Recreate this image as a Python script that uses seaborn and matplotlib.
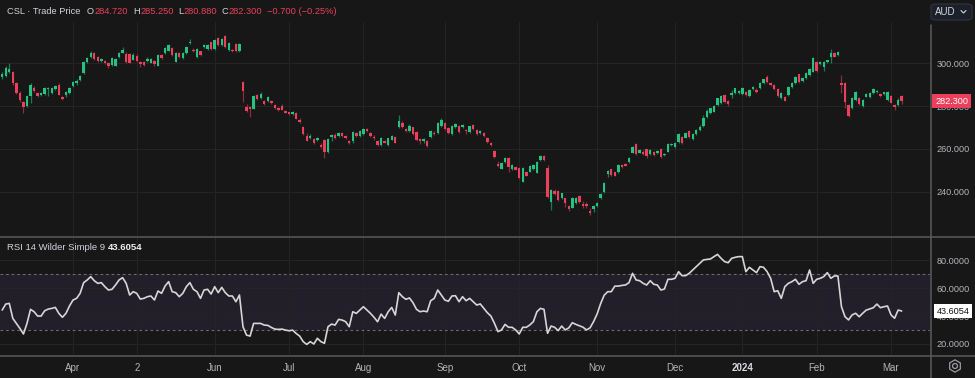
import numpy as np
import pandas as pd
import matplotlib
matplotlib.use("Agg")
import matplotlib.pyplot as plt
import matplotlib.transforms as mtrans
import seaborn as sns
from matplotlib.patches import FancyBboxPatch, RegularPolygon, Circle
from matplotlib.lines import Line2D

# CSL daily candles, 6 Mar 2023 - 6 Mar 2024 (ASX trading days)
open_ = [293.3, 294.0, 296.0, 296.0, 290.5, 286.0, 281.8, 280.0, 284.5, 288.5,
         286.0, 285.0, 285.6, 287.7, 286.0, 288.0, 289.8, 284.2, 285.0, 286.0,
         289.3, 290.5, 292.0, 295.3, 300.6, 302.8, 304.6, 302.8, 300.8, 301.0,
         300.1, 299.0, 298.8, 302.8, 304.9, 304.2, 304.0, 301.6, 303.5, 300.6,
         300.3, 301.0, 300.2, 300.9, 298.7, 303.9, 304.6, 305.8, 307.0, 300.7,
         304.6, 302.4, 304.8, 309.2, 306.1, 302.9, 305.4, 307.6, 306.6, 309.6,
         306.5, 311.5, 308.2, 312.7, 306.0, 306.2, 308.8, 305.5, 291.3, 279.7,
         279.4, 278.8, 285.1, 283.7, 282.3, 282.2, 282.3, 280.3, 279.0, 280.2,
         277.7, 277.0, 276.1, 276.6, 273.5, 270.2, 266.0, 265.0, 264.7, 264.2,
         261.8, 264.2, 258.6, 265.4, 266.7, 265.9, 267.6, 266.0, 263.9, 263.9,
         267.6, 266.2, 267.0, 269.2, 267.6, 265.8, 263.9, 261.8, 263.9, 262.0,
         264.4, 265.6, 270.1, 272.0, 269.4, 268.3, 270.0, 268.0, 264.8, 263.5,
         263.9, 265.6, 267.6, 267.3, 270.7, 272.2, 269.6, 267.0, 270.1, 270.9,
         270.3, 269.0, 267.8, 271.0, 268.8, 267.5, 267.6, 265.0, 262.9, 259.2,
         253.2, 250.9, 253.8, 255.7, 250.6, 251.4, 251.0, 244.8, 249.5, 249.5,
         250.8, 249.0, 255.0, 256.9, 251.0, 235.5, 240.5, 240.5, 237.0, 237.0,
         233.5, 232.7, 235.0, 238.0, 234.4, 234.4, 231.2, 232.0, 233.5, 237.3,
         239.9, 248.4, 250.5, 249.1, 249.3, 252.4, 253.2, 253.8, 258.3, 262.3,
         258.3, 258.6, 259.8, 257.8, 258.6, 258.2, 260.1, 257.0, 258.8, 261.7,
         260.7, 263.4, 265.7, 265.3, 268.5, 264.8, 267.0, 268.8, 270.5, 274.8,
         276.9, 277.4, 280.5, 281.5, 285.1, 282.5, 285.1, 286.2, 286.2, 285.6,
         286.7, 284.7, 287.8, 287.5, 288.2, 290.8, 293.6, 290.8, 289.8, 287.8,
         283.6, 284.3, 285.1, 289.0, 290.8, 294.7, 291.8, 292.9, 294.4, 296.0,
         300.6, 299.7, 298.3, 300.6, 302.6, 304.8, 303.6, 290.8, 290.6, 280.5,
         278.9, 282.8, 283.6, 280.0, 284.4, 284.2, 285.9, 286.3, 285.8, 285.5,
         282.8, 284.8, 280.5, 280.5, 284.72]

close = [294.9, 297.5, 297.3, 290.5, 286.0, 283.0, 279.5, 284.5, 289.8, 287.0,
         284.6, 286.0, 288.4, 288.5, 288.5, 289.2, 285.2, 283.4, 286.7, 288.6,
         291.3, 291.8, 294.0, 300.4, 302.3, 304.6, 302.0, 300.8, 301.9, 300.0,
         298.4, 302.3, 302.0, 304.6, 306.0, 300.6, 300.2, 303.9, 301.0, 299.5,
         299.3, 302.0, 301.8, 299.4, 303.7, 302.3, 307.0, 308.4, 303.8, 304.6,
         302.8, 304.6, 307.4, 309.9, 305.4, 306.5, 303.8, 308.5, 308.3, 306.5,
         310.7, 308.4, 311.2, 307.6, 309.2, 305.4, 305.5, 308.8, 287.1, 277.9,
         278.5, 284.7, 283.2, 285.6, 280.8, 284.0, 281.4, 278.9, 278.1, 278.3,
         276.9, 276.1, 277.0, 274.1, 272.6, 266.8, 263.9, 266.0, 262.9, 265.1,
         261.0, 258.7, 264.5, 266.4, 265.2, 267.6, 266.0, 265.2, 262.6, 267.8,
         266.1, 268.5, 269.2, 268.3, 266.0, 265.2, 262.0, 265.0, 263.0, 264.9,
         266.2, 263.0, 273.2, 270.1, 268.2, 270.5, 266.8, 264.0, 263.6, 264.5,
         261.3, 268.3, 266.9, 272.2, 273.5, 269.1, 267.4, 270.8, 271.6, 267.8,
         271.2, 268.2, 270.5, 269.2, 266.9, 268.5, 266.0, 263.4, 261.9, 256.1,
         252.3, 253.4, 255.7, 251.5, 252.6, 250.4, 246.4, 251.0, 247.6, 251.9,
         252.6, 253.8, 256.7, 255.0, 237.8, 240.9, 239.0, 236.3, 239.3, 235.0,
         232.0, 237.4, 237.4, 235.3, 233.6, 233.6, 230.4, 233.5, 235.0, 239.1,
         244.1, 249.9, 247.9, 247.6, 252.4, 251.7, 252.3, 255.7, 260.8, 257.7,
         259.5, 257.8, 256.7, 259.5, 257.0, 259.2, 256.4, 257.8, 262.3, 262.3,
         262.9, 267.0, 262.6, 267.6, 265.6, 267.2, 268.8, 270.4, 274.5, 277.8,
         278.9, 280.0, 283.5, 284.8, 282.0, 281.0, 286.2, 288.2, 287.1, 288.5,
         285.1, 287.4, 289.0, 286.3, 290.6, 292.4, 291.3, 289.8, 287.8, 284.7,
         285.9, 282.5, 289.0, 290.8, 293.6, 291.3, 293.2, 295.2, 297.1, 302.2,
         296.4, 300.3, 300.6, 301.2, 304.8, 303.0, 305.2, 289.8, 282.0, 275.3,
         283.6, 286.7, 280.9, 282.8, 285.6, 286.0, 287.8, 287.0, 284.5, 286.3,
         286.4, 281.6, 279.5, 283.0, 282.3]

high = [296.0, 298.5, 300.0, 296.5, 291.0, 287.0, 282.5, 285.0, 290.5, 289.5,
        286.5, 286.5, 289.0, 289.0, 289.0, 289.8, 290.5, 284.8, 287.0, 289.0,
        291.8, 292.5, 294.5, 301.0, 302.8, 305.5, 305.0, 303.5, 302.5, 301.5,
        300.5, 302.8, 302.5, 305.0, 307.5, 305.0, 304.5, 304.8, 304.0, 301.0,
        300.8, 303.0, 302.2, 301.3, 304.0, 304.3, 307.5, 309.0, 307.5, 305.0,
        305.0, 305.0, 307.8, 311.0, 306.8, 307.0, 305.8, 309.0, 308.8, 310.0,
        311.2, 312.0, 311.6, 313.2, 309.6, 306.6, 309.2, 309.3, 291.8, 281.0,
        279.8, 285.2, 285.6, 286.7, 282.8, 284.5, 283.0, 280.8, 279.5, 281.0,
        278.1, 277.4, 277.6, 277.0, 274.5, 270.6, 267.5, 266.8, 265.2, 265.6,
        262.8, 264.6, 265.0, 267.2, 267.5, 268.0, 268.0, 266.5, 264.4, 268.2,
        268.0, 268.9, 269.6, 269.6, 268.0, 266.3, 264.3, 265.4, 264.3, 265.3,
        266.6, 266.0, 276.0, 272.8, 269.8, 271.5, 270.4, 268.4, 265.2, 265.0,
        264.3, 268.7, 268.2, 272.6, 274.2, 272.6, 270.0, 271.2, 272.0, 271.3,
        271.6, 269.5, 270.9, 271.4, 269.2, 269.0, 268.0, 265.4, 263.3, 259.6,
        254.2, 253.8, 256.1, 256.1, 253.0, 251.9, 251.4, 251.4, 249.9, 252.6,
        253.0, 254.2, 257.4, 257.3, 252.5, 241.3, 241.6, 240.9, 239.7, 237.4,
        234.0, 237.8, 237.8, 238.4, 236.0, 235.4, 232.5, 234.0, 235.4, 239.5,
        244.5, 250.3, 250.9, 249.5, 252.8, 252.8, 253.6, 256.1, 261.2, 262.7,
        259.9, 259.6, 260.2, 259.9, 259.0, 259.6, 260.5, 258.2, 262.7, 262.7,
        263.3, 267.4, 266.1, 268.0, 268.9, 267.6, 269.3, 271.0, 276.0, 278.4,
        279.3, 280.4, 283.9, 285.2, 285.5, 283.0, 287.5, 288.6, 287.6, 288.9,
        287.1, 287.8, 289.4, 288.4, 291.0, 292.8, 294.5, 291.2, 290.2, 288.2,
        286.3, 284.7, 289.4, 291.2, 294.0, 295.1, 293.6, 295.6, 297.5, 302.6,
        301.0, 300.8, 301.0, 301.6, 306.6, 305.2, 305.6, 294.5, 291.0, 281.0,
        284.0, 287.1, 284.0, 283.2, 286.0, 286.4, 288.2, 287.4, 286.2, 286.7,
        286.8, 285.2, 281.0, 283.5, 285.25]

low = [292.5, 293.5, 295.5, 290.0, 285.5, 282.0, 276.7, 279.5, 281.5, 286.5,
       284.0, 284.5, 285.0, 284.5, 285.5, 287.5, 285.0, 282.8, 284.3, 285.5,
       289.0, 290.0, 291.8, 295.0, 300.0, 302.5, 301.5, 300.3, 300.5, 299.5,
       297.8, 298.6, 298.4, 302.3, 304.6, 300.2, 299.8, 301.2, 300.5, 298.3,
       298.8, 300.5, 299.8, 298.8, 298.4, 302.0, 304.2, 305.4, 303.5, 300.3,
       302.4, 302.0, 304.4, 308.8, 305.0, 302.5, 303.4, 307.2, 306.2, 306.0,
       306.0, 308.0, 307.8, 307.2, 305.6, 305.0, 305.0, 305.2, 282.0, 277.4,
       275.0, 278.4, 282.8, 283.3, 280.4, 281.8, 281.0, 278.5, 277.7, 278.0,
       276.6, 275.7, 275.8, 273.8, 272.2, 266.4, 263.5, 264.6, 262.5, 263.8,
       260.6, 256.0, 258.0, 263.5, 264.8, 265.5, 265.6, 264.6, 262.2, 262.6,
       265.7, 265.8, 266.6, 267.9, 265.6, 264.2, 261.6, 261.4, 262.6, 261.6,
       264.0, 262.6, 269.7, 269.7, 267.8, 267.9, 266.4, 263.6, 262.4, 263.0,
       260.9, 265.2, 266.5, 266.9, 270.3, 268.7, 267.0, 266.6, 269.7, 267.4,
       269.9, 267.0, 267.4, 268.8, 266.5, 267.1, 265.6, 263.0, 261.2, 255.7,
       251.8, 250.5, 253.4, 249.5, 250.2, 250.0, 246.0, 244.4, 247.2, 249.1,
       250.4, 248.6, 254.6, 254.6, 237.4, 231.5, 238.6, 235.9, 236.6, 233.0,
       231.0, 232.3, 234.6, 234.9, 232.4, 232.4, 229.5, 230.8, 233.1, 236.9,
       239.5, 247.0, 247.5, 247.2, 248.9, 251.3, 251.9, 253.4, 257.9, 257.3,
       257.9, 257.4, 256.0, 257.4, 256.6, 257.8, 256.0, 256.6, 258.4, 261.3,
       260.3, 263.0, 262.2, 264.9, 265.2, 264.4, 266.6, 268.4, 270.0, 274.4,
       276.5, 277.0, 280.1, 281.1, 281.6, 280.0, 283.8, 285.8, 285.8, 285.2,
       284.7, 284.3, 287.4, 285.9, 287.8, 290.4, 290.9, 289.4, 287.4, 284.3,
       283.2, 282.1, 284.7, 288.6, 290.4, 290.9, 291.4, 292.5, 294.0, 295.6,
       296.0, 299.3, 296.5, 300.2, 300.0, 302.6, 303.2, 286.0, 279.0, 274.9,
       278.5, 282.4, 280.5, 279.6, 284.0, 283.8, 285.5, 285.9, 284.1, 285.1,
       282.4, 281.2, 278.0, 280.1, 280.88]

rsi = [44.3, 48.6, 49.1, 38.3, 34.7, 31.1, 27.1, 34.7, 44.8, 43.1,
       40.0, 40.0, 43.8, 45.0, 45.5, 46.2, 41.9, 39.1, 41.9, 47.2,
       51.5, 52.7, 56.3, 64.0, 65.9, 68.3, 65.4, 63.5, 64.0, 61.1,
       58.7, 59.2, 62.3, 65.9, 67.6, 63.5, 55.1, 57.5, 56.3, 52.2,
       52.7, 53.9, 54.4, 51.5, 58.0, 56.3, 61.6, 64.7, 57.5, 56.8,
       53.9, 56.3, 61.1, 64.0, 59.2, 57.5, 52.7, 58.7, 59.2, 55.8,
       61.1, 56.8, 60.6, 56.8, 54.4, 54.4, 50.3, 55.1, 32.3, 26.3,
       25.6, 34.7, 34.7, 34.7, 33.5, 33.3, 31.8, 30.6, 30.4, 30.6,
       29.9, 29.4, 29.9, 27.5, 25.6, 21.6, 19.6, 21.6, 19.9, 24.0,
       21.6, 20.4, 32.3, 34.2, 33.5, 37.6, 37.1, 35.9, 32.3, 43.1,
       41.9, 44.3, 46.7, 44.3, 41.9, 39.1, 35.9, 41.4, 38.3, 43.1,
       46.2, 40.7, 56.8, 53.9, 52.0, 53.0, 49.6, 44.8, 43.1, 43.6,
       43.1, 51.0, 52.7, 58.7, 55.1, 51.5, 50.6, 54.4, 54.6, 50.3,
       53.9, 51.0, 52.7, 50.3, 47.9, 48.7, 45.5, 42.4, 40.0, 34.8,
       28.8, 30.0, 34.0, 31.9, 31.9, 30.0, 27.1, 31.9, 31.9, 33.6,
       36.0, 43.1, 45.5, 44.8, 27.6, 32.8, 31.9, 29.5, 32.8, 30.0,
       31.5, 35.2, 34.0, 33.0, 32.0, 30.0, 31.5, 36.0, 41.5, 49.0,
       55.0, 57.5, 57.5, 61.5, 61.5, 62.0, 62.3, 64.0, 70.7, 65.9,
       65.4, 63.5, 62.3, 65.4, 62.8, 62.3, 58.7, 59.4, 66.4, 66.4,
       67.1, 71.9, 69.0, 69.0, 70.7, 73.1, 75.5, 77.9, 80.3, 80.7,
       81.0, 82.7, 84.3, 81.5, 79.1, 78.3, 81.5, 82.2, 82.7, 82.7,
       71.9, 75.0, 73.1, 71.2, 75.5, 75.0, 71.9, 67.1, 57.5, 58.2,
       52.7, 61.1, 63.5, 64.7, 66.4, 62.8, 64.7, 65.4, 73.1, 63.5,
       66.4, 67.1, 68.3, 71.2, 67.1, 68.8, 68.8, 46.7, 39.5, 37.2,
       40.8, 42.0, 39.5, 42.0, 44.3, 45.1, 46.0, 48.6, 46.0, 46.7,
       47.2, 40.8, 38.4, 44.3, 43.6054]

asx_holidays = ["2023-04-07", "2023-04-10", "2023-04-25", "2023-06-12",
                "2023-12-25", "2023-12-26", "2024-01-01", "2024-01-26"]
tick_dates = ["2023-04-03", "2023-05-02", "2023-06-01", "2023-07-03", "2023-08-01",
              "2023-09-01", "2023-10-02", "2023-11-01", "2023-12-01", "2024-01-02",
              "2024-02-01", "2024-03-01"]
tick_labels = ["Apr", "2", "Jun", "Jul", "Aug", "Sep", "Oct", "Nov", "Dec", "2024", "Feb", "Mar"]
price_ticks = [240, 260, 280, 300]
rsi_ticks = [20, 40, 60, 80]

days = pd.bdate_range("2023-03-06", "2024-03-06", freq="C", holidays=asx_holidays)
df = pd.DataFrame({"date": days, "open": open_, "high": high, "low": low,
                   "close": close, "rsi": rsi})
df["i"] = np.arange(len(df))
tick_pos = days.get_indexer(pd.to_datetime(tick_dates))

# colours
BG = "#171717"
GRID = "#242424"
TXT = "#b2b5be"
GREEN, GREEN_W = "#26c281", "#1b7a50"
RED, RED_W = "#ec3f5b", "#8a2c3c"

sns.set_theme(style="dark", rc={"axes.facecolor": BG, "figure.facecolor": BG,
                                "grid.color": GRID, "axes.edgecolor": BG})
plt.rcParams["font.family"] = ["Liberation Sans", "DejaVu Sans"]

W, H = 975, 378
fx = lambda px: px / W
fy = lambda py: 1 - py / H

fig = plt.figure(figsize=(9.75, 3.78), dpi=100)
ax = fig.add_axes([0, fy(236), fx(930), (236 - 22) / H])
ax2 = fig.add_axes([0, fy(355), fx(930), (355 - 237) / H])

# candles
up = df["close"] >= df["open"]
ax.vlines(df["i"], df["low"], df["high"], colors=np.where(up, GREEN_W, RED_W), lw=0.9, zorder=2)
ax.bar(df["i"], np.maximum((df["close"] - df["open"]).abs(), 0.4),
       bottom=np.minimum(df["open"], df["close"]), width=0.68,
       color=np.where(up, GREEN, RED), linewidth=0, zorder=3)

# rsi
ax2.axhspan(30, 70, color="#221e2a", lw=0, zorder=0)
for lvl in (30, 70):
    ax2.axhline(lvl, color="#6b6b6b", lw=0.8, ls=(0, (2.5, 2.5)), zorder=1)
sns.lineplot(data=df, x="i", y="rsi", ax=ax2, color="#d6d6d6", lw=1.2, zorder=3)

for a in (ax, ax2):
    a.set_xlim(-0.62, 262.0)
    a.set_xticks(tick_pos)
    a.grid(True, color=GRID, lw=0.8)
    a.set_axisbelow(True)
    a.yaxis.tick_right()
    a.tick_params(length=0, colors=TXT, labelsize=6.6, pad=5)
    a.set_xlabel("")
    a.set_ylabel("")
    for s in a.spines.values():
        s.set_visible(False)

ax.set_ylim(219.5, 319.1)
ax.set_yticks(price_ticks)
ax.set_yticklabels([f"{v:.3f}" for v in price_ticks])
ax.set_xticklabels([])

ax2.set_ylim(12.0, 96.8)
ax2.set_yticks(rsi_ticks)
ax2.set_yticklabels([f"{v:.4f}" for v in rsi_ticks])
ax2.set_xticklabels(tick_labels, fontsize=7, color=TXT)
ax2.tick_params(axis="x", pad=6)
for lab in ax2.get_xticklabels():
    if lab.get_text() == "2024":
        lab.set_fontweight("bold")
        lab.set_color("#d8dae0")

# panel borders
line_c = "#5a5a5a"
fig.add_artist(Line2D([0, 1], [fy(236.5), fy(236.5)], color=line_c, lw=1.1, transform=fig.transFigure))
fig.add_artist(Line2D([0, 1], [fy(355.5), fy(355.5)], color=line_c, lw=1.1, transform=fig.transFigure))
fig.add_artist(Line2D([fx(930.5), fx(930.5)], [fy(25), 0], color=line_c, lw=1.1, transform=fig.transFigure))

# header
last = df.iloc[-1]
chg = last["close"] - df["close"].iloc[-2]
pct = chg / df["close"].iloc[-2] * 100
hy = fy(11.5)
HFS = 6.7
fig.text(fx(7), hy, "CSL · Trade Price", color="#d1d4dc", fontsize=HFS, va="center")
for px_l, px_v, key, val in [(87, 95, "O", last["open"]), (133, 141, "H", last["high"]),
                             (178, 184, "L", last["low"]), (221, 229, "C", last["close"])]:
    fig.text(fx(px_l), hy, key, color="#d1d4dc", fontsize=HFS, va="center")
    fig.text(fx(px_v), hy, f"{val:.3f}", color=RED, fontsize=HFS, va="center")
fig.text(fx(267), hy, f"{chg:.3f} ({pct:.2f}%)".replace("-", "\u2212"),
         color=RED, fontsize=HFS, va="center")

fig.text(fx(7), fy(248), "RSI 14 Wilder Simple 9", color="#d1d4dc", fontsize=6.8, va="center")
fig.text(fx(108), fy(248), f"{rsi[-1]:.4f}", color="#f0f0f0", fontsize=6.8,
         va="center", fontweight="bold")

# AUD selector
fig.add_artist(FancyBboxPatch((fx(931), fy(20)), fx(41), 16 / H,
                              boxstyle="round,pad=0,rounding_size=0.006",
                              fc="#1b202b", ec="#30353f", lw=0.8, transform=fig.transFigure))
fig.text(fx(935), fy(12), "AUD", color="#d1d4dc", fontsize=7, va="center")
fig.add_artist(Line2D([fx(961), fx(963.5), fx(966)], [fy(10.5), fy(13), fy(10.5)],
                      color="#d1d4dc", lw=0.8, transform=fig.transFigure))

# last value tags
tr1 = mtrans.blended_transform_factory(fig.transFigure, ax.transData)
ax.text(fx(951.5), last["close"], f"{last['close']:.3f}", transform=tr1, ha="center",
        va="center", color="white", fontsize=6.6, clip_on=False, zorder=10,
        bbox=dict(boxstyle="square,pad=0.3", fc=RED, ec="none"))
tr2 = mtrans.blended_transform_factory(fig.transFigure, ax2.transData)
ax2.text(fx(953), rsi[-1], f"{rsi[-1]:.4f}", transform=tr2, ha="center", va="center",
         color="#111111", fontsize=6.6, clip_on=False, zorder=10,
         bbox=dict(boxstyle="square,pad=0.3", fc="white", ec="none"))

# settings icon
gax = fig.add_axes([fx(947), fy(374), 16 / W, 16 / H])
gax.set_xlim(-1.3, 1.3)
gax.set_ylim(-1.3, 1.3)
gax.set_aspect("equal")
gax.axis("off")
gax.add_patch(RegularPolygon((0, 0), 6, radius=1.0, fill=False, ec="#9a9ca3", lw=0.9))
gax.add_patch(Circle((0, 0), 0.4, fill=False, ec="#9a9ca3", lw=0.9))

fig.savefig("out.png", dpi=100, facecolor=BG)
